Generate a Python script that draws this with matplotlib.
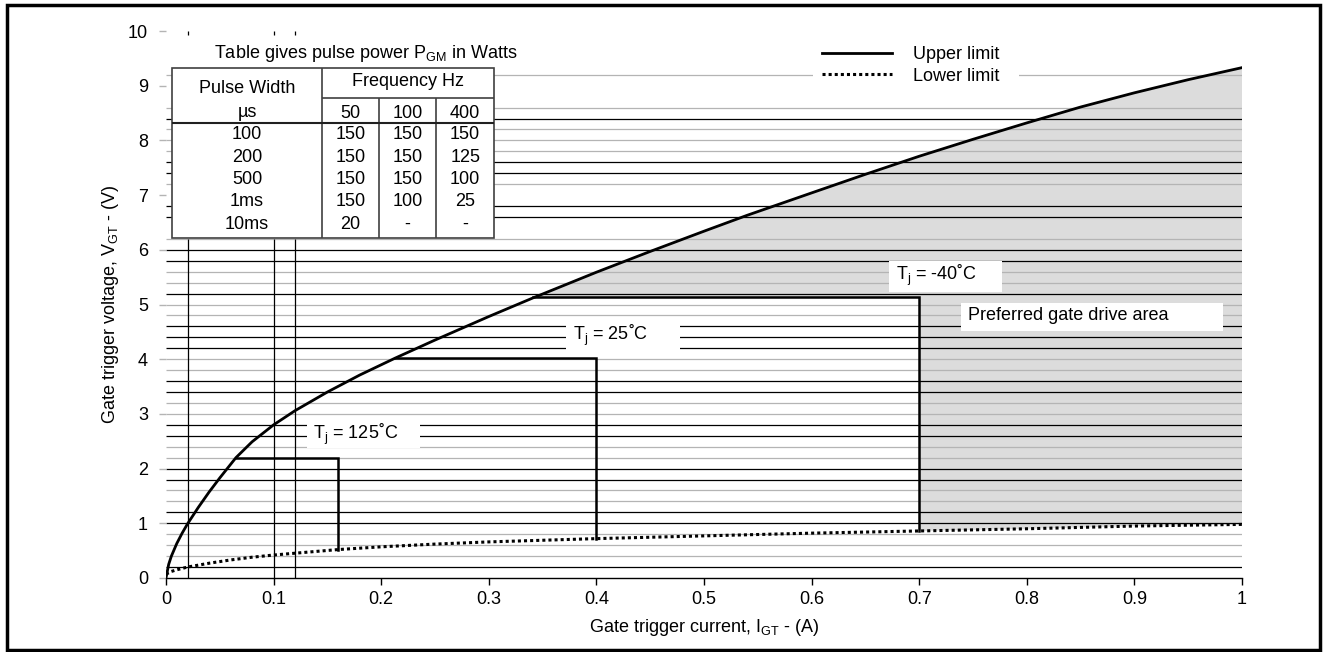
import numpy as np
import matplotlib as mpl
import matplotlib.pyplot as plt
from matplotlib.patches import Rectangle

plt.rcParams['font.family'] = ['Liberation Sans', 'DejaVu Sans']
plt.rcParams['mathtext.fontset'] = 'custom'
plt.rcParams['mathtext.rm'] = 'Liberation Sans'
plt.rcParams['mathtext.it'] = 'Liberation Sans:italic'

##### Gate characteristic
# gate current, A / gate voltage, V
upper_i = [0, 0.0025, 0.005, 0.01, 0.015, 0.02, 0.03, 0.04, 0.05, 0.065, 0.08, 0.1,
           0.12, 0.15, 0.18, 0.213, 0.25, 0.3, 0.341, 0.4, 0.45, 0.5, 0.54, 0.6,
           0.65, 0.7, 0.75, 0.8, 0.85, 0.9, 0.95, 1.0]
upper_v = [0, 0.25, 0.4, 0.63, 0.82, 0.99, 1.29, 1.57, 1.83, 2.2, 2.49, 2.8,
           3.06, 3.4, 3.71, 4.02, 4.35, 4.78, 5.12, 5.59, 5.97, 6.34, 6.63, 7.04,
           7.38, 7.71, 8.02, 8.32, 8.61, 8.87, 9.11, 9.33]
lower_i = [0, 0.005, 0.01, 0.02, 0.04, 0.06, 0.08, 0.1, 0.13, 0.16, 0.2, 0.25,
           0.3, 0.4, 0.5, 0.6, 0.7, 0.8, 0.9, 1.0]
lower_v = [0.07, 0.12, 0.15, 0.2, 0.27, 0.33, 0.38, 0.42, 0.47, 0.52, 0.57, 0.62,
           0.66, 0.72, 0.77, 0.82, 0.86, 0.9, 0.95, 0.98]

# temperature boxes: left current (on upper curve), right current, top voltage, bottom voltage
tj_labels = ['125', '25', '-40']
tj_i_left = [0.065, 0.213, 0.341]
tj_i_right = [0.16, 0.4, 0.7]
tj_v_top = [2.2, 4.02, 5.13]
tj_v_bottom = [0.52, 0.72, 0.86]

# horizontal rules on the original sheet
rule_black = [0.2, 1.0, 1.2, 1.8, 2.0, 2.6, 2.8, 3.4, 3.6, 4.2, 4.4, 4.6, 5.2,
              5.8, 6.0, 6.6, 6.8, 7.4, 7.6, 8.4]
rule_grey = [0.4, 0.6, 0.8, 1.4, 1.6, 2.2, 2.4, 3.0, 3.2, 3.8, 4.0, 4.8, 5.0,
             5.4, 5.6, 6.2, 7.2, 7.8, 8.0, 8.2, 8.6, 9.2]
rule_vert = [0.02, 0.1, 0.12]

# pulse power table
tbl_freq = ['50', '100', '400']
tbl_width = ['100', '200', '500', '1ms', '10ms']
tbl_power = [['150', '150', '150'],
             ['150', '150', '125'],
             ['150', '150', '100'],
             ['150', '100', '25'],
             ['20', '-', '-']]

xticks = [0, 0.1, 0.2, 0.3, 0.4, 0.5, 0.6, 0.7, 0.8, 0.9, 1]
xticklabels = ['0', '0.1', '0.2', '0.3', '0.4', '0.5', '0.6', '0.7', '0.8', '0.9', '1']
yticks = list(range(0, 11))

fs = 13

fig = plt.figure(figsize=(13.23, 6.52), dpi=100)
ax = fig.add_axes([166/1323, 1-578/652, (1242-166)/1323, (578-31)/652])
ax.set_xlim(0, 1)
ax.set_ylim(0, 10)

# grey preferred area
fx = [x for x in upper_i if x >= 0.341]
fy = [v for x, v in zip(upper_i, upper_v) if x >= 0.341]
lx = [x for x in lower_i if x >= 0.7][::-1]
ly = [v for x, v in zip(lower_i, lower_v) if x >= 0.7][::-1]
ax.fill(fx + lx + [0.7], fy + ly + [5.13], color='#dcdcdc', lw=0, zorder=0.5)

ax.hlines(rule_grey, 0, 1, color='#b4b4b4', lw=0.9, zorder=1)
ax.hlines(rule_black, 0, 1, color='black', lw=0.9, zorder=1)
ax.vlines(rule_vert, 0, 6.2, color='black', lw=0.9, zorder=1)
ax.vlines(rule_vert, 9.93, 10, color='black', lw=0.9, zorder=1)

# table
t_l, t_r, t_t, t_b = 0.006, 0.305, 9.32, 6.21
col_x = [0.1447, 0.198, 0.251]
ax.add_patch(Rectangle((t_l, t_b), t_r-t_l, t_t-t_b, facecolor='white',
                       edgecolor='#404040', lw=1.2, zorder=3))
ax.vlines(col_x[0], t_b, t_t, color='#404040', lw=1.2, zorder=3.5)
ax.vlines(col_x[1:], t_b, 8.78, color='#404040', lw=1.2, zorder=3.5)
ax.hlines(8.78, col_x[0], t_r, color='#404040', lw=1.2, zorder=3.5)
ax.hlines(8.31, t_l, t_r, color='#202020', lw=1.5, zorder=3.5)
ax.text(0.186, 9.59, 'Table gives pulse power P$_{\\mathregular{GM}}$ in Watts',
        ha='center', va='center', fontsize=fs, zorder=4)
ax.text((t_l+col_x[0])/2, 8.94, 'Pulse Width', ha='center', va='center', fontsize=fs, zorder=4)
ax.text((t_l+col_x[0])/2, 8.51, 'µs', ha='center', va='center', fontsize=fs, zorder=4)
ax.text((col_x[0]+t_r)/2, 9.07, 'Frequency Hz', ha='center', va='center', fontsize=fs, zorder=4)
col_c = [(col_x[0]+col_x[1])/2, (col_x[1]+col_x[2])/2, (col_x[2]+t_r)/2]
for c, f in zip(col_c, tbl_freq):
    ax.text(c, 8.50, f, ha='center', va='center', fontsize=fs, zorder=4)
for r, (w, row) in enumerate(zip(tbl_width, tbl_power)):
    y = 8.10 - 0.408*r
    ax.text((t_l+col_x[0])/2, y, w, ha='center', va='center', fontsize=fs, zorder=4)
    for c, p in zip(col_c, row):
        ax.text(c, y, p, ha='center', va='center', fontsize=fs, zorder=4)

# curves
ax.plot(upper_i, upper_v, color='black', lw=2, zorder=5, label='Upper limit')
ax.plot(lower_i, lower_v, color='black', lw=2.2, ls=(0, (1, 1)), zorder=5,
        label='Lower limit')

for i0, i1, vt, vb in zip(tj_i_left, tj_i_right, tj_v_top, tj_v_bottom):
    ax.plot([i0, i1, i1], [vt, vt, vb], color='black', lw=1.8, zorder=4,
            solid_joinstyle='miter')

# white label boxes (x0, x1, y0, y1) and the text start inside them
boxes = [(0.131, 0.236, 2.38, 2.83), (0.372, 0.478, 4.17, 4.66),
         (0.672, 0.777, 5.22, 5.79), (0.739, 0.982, 4.52, 5.03)]
texts = ['T$_{\\mathregular{j}}$ = ' + t + '˚C' for t in tj_labels] + ['Preferred gate drive area']
text_x = [0.1366, 0.378, 0.678, 0.745]
for (x0, x1, y0, y1), t, tx in zip(boxes, texts, text_x):
    ax.add_patch(Rectangle((x0, y0), x1-x0, y1-y0, facecolor='white',
                           edgecolor='none', zorder=5.5))
    ax.text(tx, (y0+y1)/2 + 0.02, t, ha='left', va='center', fontsize=fs, zorder=6)

# white patch behind the legend, wider than the legend frame
ax.add_patch(Rectangle((0.601, 9.0), 0.192, 0.9, facecolor='white',
                       edgecolor='none', zorder=1.5))
leg = ax.legend(loc='upper left', bbox_to_anchor=(0.596, 0.999), fontsize=fs,
                handlelength=3.9, handletextpad=1.15, labelspacing=0.25,
                frameon=True, fancybox=False, borderpad=0.3)
leg.get_frame().set_facecolor('white')
leg.get_frame().set_edgecolor('none')
leg.get_frame().set_alpha(1)
leg.set_zorder(7)

for s in ['left', 'right', 'top']:
    ax.spines[s].set_visible(False)
ax.spines['bottom'].set_linewidth(1)
ax.set_xticks(xticks)
ax.set_xticklabels(xticklabels)
ax.set_yticks(yticks)
ax.tick_params(axis='x', direction='out', length=5, width=1, pad=4, labelsize=fs)
ax.tick_params(axis='y', direction='out', length=5, width=1, color='#b4b4b4',
               pad=8, labelsize=fs)
ax.set_xlabel('Gate trigger current, I$_{\\mathregular{GT}}$ - (A)', fontsize=fs, labelpad=7)
ax.set_ylabel('Gate trigger voltage, V$_{\\mathregular{GT}}$ - (V)', fontsize=fs, labelpad=5)

fig.patches.append(Rectangle((7/1323, 1-650/652), 1313/1323, 645/652,
                             transform=fig.transFigure, fill=False,
                             edgecolor='black', lw=2.5))

fig.savefig('out.png', dpi=100)
